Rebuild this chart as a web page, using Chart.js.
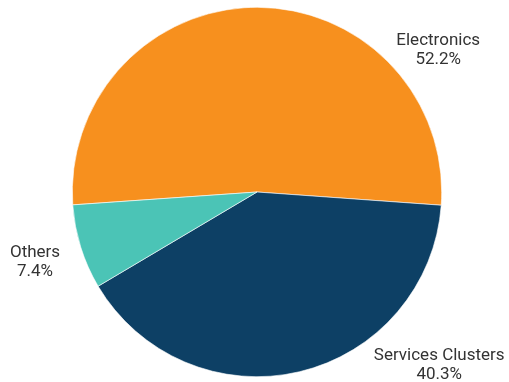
<!DOCTYPE html>
<html>
<head>
<meta charset="utf-8">
<script src="https://cdn.jsdelivr.net/npm/chart.js@4"></script>
<style>
  html, body { margin: 0; padding: 0; background: #ffffff; }
  #wrap { width: 509px; height: 382px; position: relative; }
</style>
</head>
<body>
<div id="wrap"><canvas id="c" width="509" height="382"></canvas></div>
<script>
const categories = ["Electronics", "Services Clusters", "Others"];
const shares = [52.2, 40.3, 7.4];
const percentLabels = ["52.2%", "40.3%", "7.4%"];
const colors = ["#F7901E", "#0D4065", "#4BC4B6"];

// label placement: angle (deg, screen, clockwise from 3 o'clock) and distance as a fraction of radius
const labelPlacement = [
  { angle: -38, dist: 1.245 },
  { angle: 43.5, dist: 1.36 },
  { angle: 162.5, dist: 1.26 }
];

const outsideLabels = {
  id: 'outsideLabels',
  afterDatasetsDraw(chart) {
    const ctx = chart.ctx;
    const meta = chart.getDatasetMeta(0);
    const arc0 = meta.data[0];
    const cx = arc0.x, cy = arc0.y, r = arc0.outerRadius;
    ctx.save();
    ctx.fillStyle = '#333333';
    ctx.font = '17px Roboto';
    ctx.textAlign = 'center';
    ctx.textBaseline = 'middle';
    meta.data.forEach((arc, i) => {
      const p = labelPlacement[i];
      const a = p.angle * Math.PI / 180;
      const x = cx + Math.cos(a) * r * p.dist;
      const y = cy + Math.sin(a) * r * p.dist;
      ctx.fillText(categories[i], x, y - 9.5);
      ctx.fillText(percentLabels[i], x, y + 9.5);
    });
    ctx.restore();
  }
};

new Chart(document.getElementById('c'), {
  type: 'pie',
  data: {
    labels: categories,
    datasets: [{
      data: shares,
      backgroundColor: colors,
      borderColor: '#ffffff',
      borderWidth: 0.6
    }]
  },
  options: {
    responsive: false,
    animation: false,
    rotation: 266,
    layout: { padding: { left: 72, right: 67, top: 7, bottom: 5 } },
    plugins: {
      legend: { display: false },
      tooltip: { enabled: false },
      title: { display: false }
    }
  },
  plugins: [outsideLabels]
});
</script>
</body>
</html>
